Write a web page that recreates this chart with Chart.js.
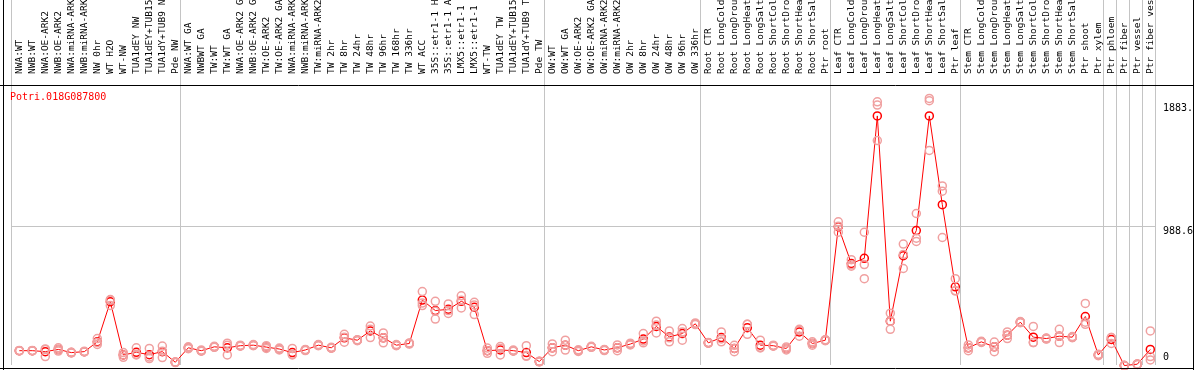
<!DOCTYPE html>
<html><head><meta charset="utf-8">
<script src="https://cdn.jsdelivr.net/npm/chart.js@4.4.1/dist/chart.umd.min.js"></script>
<style>html,body{margin:0;padding:0;background:#fff;overflow:hidden}canvas{display:block}</style>
</head><body>
<canvas id="c" width="1194" height="370"></canvas>
<script>
const geneId = 'Potri.018G087800';
const categories = [
 'NWA:WT','NWB:WT','NWA:OE-ARK2','NWB:OE-ARK2','NWA:miRNA-ARK2','NWB:miRNA-ARK2','NW 0hr','WT H2O','WT-NW','TUA1dEY NW','TUA1dEY+TUB15 NW','TUA1dY+TUB9 NW','Pde NW',
 'NWA:WT GA','NWBWT GA','TW:WT','TW:WT GA','NWA:OE-ARK2 GA','NWB:OE-ARK2 GA','TW:OE-ARK2','TW:OE-ARK2 GA','NWA:miRNA-ARK2','NWB:miRNA-ARK2','TW:miRNA-ARK2','TW 2hr','TW 8hr','TW 24hr','TW 48hr','TW 96hr','TW 168hr','TW 336hr','WT ACC','35S::etr1-1 H2O','35S::etr1-1 ACC','LMX5::etr1-1 H2O','LMX5::etr1-1 ACC','WT-TW','TUA1dEY TW','TUA1dEY+TUB15 TW','TUA1dY+TUB9 TW','Pde TW',
 'OW:WT','OW:WT GA','OW:OE-ARK2','OW:OE-ARK2 GA','OW:miRNA-ARK2','OW:miRNA-ARK2','OW 2hr','OW 8hr','OW 24hr','OW 48hr','OW 96hr','OW 336hr',
 'Root CTR','Root LongCold','Root LongDrought','Root LongHeat','Root LongSalt','Root ShortCold','Root ShortDrought','Root ShortHeat','Root ShortSalt','Ptr root',
 'Leaf CTR','Leaf LongCold','Leaf LongDrought','Leaf LongHeat','Leaf LongSalt','Leaf ShortCold','Leaf ShortDrought','Leaf ShortHeat','Leaf ShortSalt','Ptr leaf',
 'Stem CTR','Stem LongCold','Stem LongDrought','Stem LongHeat','Stem LongSalt','Stem ShortCold','Stem ShortDrought','Stem ShortHeat','Stem ShortSalt','Ptr shoot','Ptr xylem',
 'Ptr phloem','Ptr fiber','Ptr vessel','Ptr fiber vessel'
];
const groupStarts = [0, 13, 41, 53, 63, 73, 84, 85, 86, 87, 88];
const means = [
 86,86,79,95,72,79,150,441,55,74,57,79,2,
 107,86,114,107,122,126,112,98,72,91,126,107,179,162,229,179,126,138,453,377,386,444,401,86,91,86,72,7,
 107,126,86,114,91,107,134,170,262,186,210,281,
 143,181,102,253,126,122,102,222,138,162,
 985,718,756,1789,300,775,957,1789,1145,549,
 107,150,114,198,293,184,174,191,184,334,55,
 167,-22,-12,95
];
const rep1 = [
 84,86,95,107,72,79,174,453,55,107,102,119,2,
 107,86,114,126,122,126,112,98,102,91,126,107,205,162,265,215,126,138,515,444,425,484,437,86,102,86,122,7,
 107,126,86,114,91,107,134,210,300,229,246,281,
 143,222,102,277,162,122,102,234,138,162,
 1021,746,945,1891,358,859,1081,1916,1281,608,
 107,150,114,222,293,262,174,241,184,429,55,
 181,-22,-12,229
];
const rep2 = [
 88,84,99,95,70,77,146,457,72,60,40,82,0,
 100,90,110,140,118,130,122,105,60,95,122,110,184,158,241,179,122,134,431,372,356,452,418,105,116,90,50,5,
 135,162,80,110,95,128,128,157,272,179,222,275,
 140,171,125,277,106,118,113,241,150,158,
 989,709,711,1868,300,682,902,1899,1243,520,
 128,146,79,198,289,145,170,191,180,293,50,
 181,-22,-10,43
];
const rep3 = [
 86,88,43,83,74,81,131,413,38,55,29,36,4,
 114,82,118,55,126,122,102,91,55,87,130,104,148,166,181,143,130,142,413,315,377,396,348,67,55,82,45,9,
 79,90,92,118,87,86,140,143,215,150,162,287,
 146,150,79,205,110,126,91,191,126,166,
 945,699,608,1610,241,784,878,1539,907,520,
 86,154,149,174,297,145,178,145,188,277,60,
 138,-22,-14,19
];
const yTicks = [0, 988.6, 1883.2];
const yGridValue = 988.6;

const X_MIN = -0.64, X_MAX = 87.36;
const Y_MIN = -14.3, Y_MAX = 2006;
const FONT = {family: "'DejaVu Sans Mono', monospace", size: 10};
const LABEL_FONT = {family: "'DejaVu Sans Mono', monospace", size: 9.5};
const GRID = '#c4c4c4';
const PINK = '#f0a0a0';
const RED = '#ff0000';

const pts = arr => arr.map((v, i) => ({x: i, y: v}));
const noPad = s => { s.paddingLeft = 0; s.paddingRight = 0; s.paddingTop = 0; s.paddingBottom = 0; };

const headerGridPlugin = {
  id: 'headerGrid',
  beforeDraw(chart) {
    const ctx = chart.ctx, xs = chart.scales.x, a = chart.chartArea;
    ctx.save();
    ctx.strokeStyle = GRID; ctx.lineWidth = 1;
    ctx.beginPath();
    xs.ticks.forEach(t => {
      const px = Math.round(xs.getPixelForValue(t.value)) + 0.5;
      ctx.moveTo(px, 0); ctx.lineTo(px, a.top);
    });
    ctx.stroke();
    ctx.restore();
    // the lowest y label sits above its tick, the others hang below theirs
    const ys = chart.scales.y;
    const items = ys.getLabelItems(chart.chartArea);
    items.forEach((it, i) => {
      if (ys.ticks[i] && ys.ticks[i].value === 0) it.options.textBaseline = 'bottom';
    });
  }
};

const framePlugin = {
  id: 'frame',
  afterDraw(chart) {
    const ctx = chart.ctx;
    ctx.save();
    ctx.strokeStyle = '#000';
    ctx.lineWidth = 1;
    ctx.beginPath();
    ctx.moveTo(0, 85.5); ctx.lineTo(chart.width, 85.5);
    ctx.moveTo(3.5, 0); ctx.lineTo(3.5, chart.height);
    ctx.moveTo(chart.width - 0.5, 0); ctx.lineTo(chart.width - 0.5, chart.height);
    ctx.moveTo(0, 368.5); ctx.lineTo(chart.width, 368.5);
    ctx.stroke();
    ctx.fillStyle = RED;
    ctx.font = "10px 'DejaVu Sans Mono', monospace";
    ctx.textBaseline = 'middle';
    ctx.textAlign = 'left';
    ctx.fillText(geneId, 10, 97);
    ctx.restore();
  }
};

Chart.defaults.font.family = FONT.family;
Chart.defaults.font.size = FONT.size;

new Chart(document.getElementById('c'), {
  type: 'line',
  data: {
    datasets: [
      {data: pts(rep1), showLine: false, pointRadius: 4, pointBorderWidth: 1.5, pointBorderColor: PINK, pointBackgroundColor: 'rgba(0,0,0,0)', clip: false},
      {data: pts(rep2), showLine: false, pointRadius: 4, pointBorderWidth: 1.5, pointBorderColor: PINK, pointBackgroundColor: 'rgba(0,0,0,0)', clip: false},
      {data: pts(rep3), showLine: false, pointRadius: 4, pointBorderWidth: 1.5, pointBorderColor: PINK, pointBackgroundColor: 'rgba(0,0,0,0)', clip: false},
      {data: pts(means), borderColor: RED, borderWidth: 1, pointRadius: 4, pointBorderWidth: 1.5, pointBorderColor: RED, pointBackgroundColor: 'rgba(0,0,0,0)', tension: 0, clip: false}
    ]
  },
  options: {
    responsive: false,
    animation: false,
    devicePixelRatio: 1,
    layout: {padding: {left: 11, right: 0, top: 0, bottom: 1}},
    plugins: {legend: {display: false}, tooltip: {enabled: false}, title: {display: false}},
    scales: {
      x: {
        type: 'linear', position: 'bottom', min: X_MIN, max: X_MAX,
        afterBuildTicks: s => { s.ticks = groupStarts.map(v => ({value: v + X_MIN})); },
        ticks: {display: false},
        grid: {color: GRID, lineWidth: 1, drawTicks: false},
        border: {display: false},
        afterFit: s => { s.height = 1; noPad(s); }
      },
      xTop: {
        type: 'linear', position: 'top', min: X_MIN, max: X_MAX,
        afterBuildTicks: s => { s.ticks = categories.map((c, i) => ({value: i})); },
        ticks: {autoSkip: false, maxRotation: 90, minRotation: 90, padding: 4, labelOffset: 12, color: '#000', font: LABEL_FONT,
                callback: v => categories[v]},
        grid: {display: false},
        border: {display: false},
        afterFit: s => { s.height = 86; noPad(s); }
      },
      y: {
        type: 'linear', position: 'right', min: Y_MIN, max: Y_MAX,
        afterBuildTicks: s => { s.ticks = yTicks.map(v => ({value: v})); },
        ticks: {align: 'start', padding: 8, color: '#000', font: FONT, callback: v => String(v)},
        grid: {color: c => (c.tick && c.tick.value === yGridValue) ? GRID : 'rgba(0,0,0,0)', drawTicks: false},
        border: {display: false},
        afterFit: s => { s.width = 39; noPad(s); }
      }
    }
  },
  plugins: [headerGridPlugin, framePlugin]
});
</script>
</body></html>
